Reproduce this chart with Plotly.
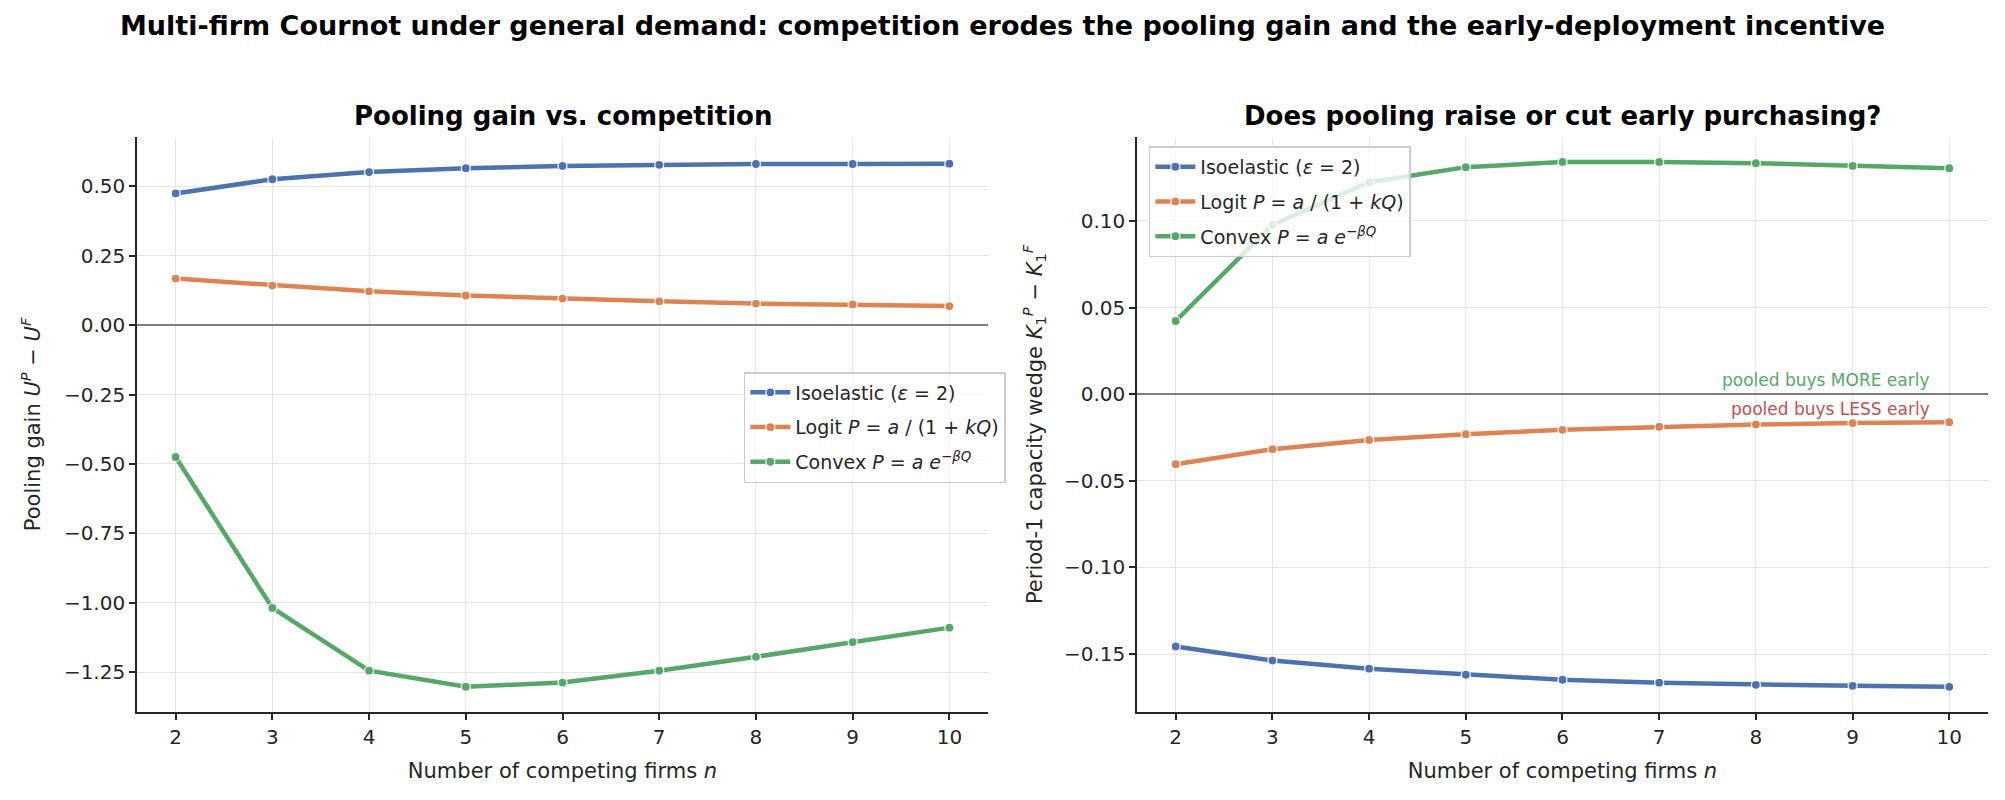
import plotly.graph_objects as go

n_firms = [2, 3, 4, 5, 6, 7, 8, 9, 10]

# Left panel: pooling gain U^P - U^F
gain_iso = [0.475, 0.526, 0.552, 0.566, 0.574, 0.578, 0.581, 0.581, 0.582]
gain_logit = [0.168, 0.143, 0.122, 0.107, 0.096, 0.086, 0.078, 0.075, 0.069]
gain_convex = [-0.475, -1.019, -1.245, -1.303, -1.288, -1.245, -1.195, -1.142, -1.090]

# Right panel: period-1 capacity wedge K1^P - K1^F
wedge_iso = [-0.1456, -0.1537, -0.1584, -0.1619, -0.1648, -0.1665, -0.1677, -0.1683, -0.1689]
wedge_logit = [-0.0404, -0.0318, -0.0264, -0.0231, -0.0206, -0.0188, -0.0175, -0.0167, -0.0162]
wedge_convex = [0.0422, 0.0977, 0.1223, 0.1310, 0.1340, 0.1340, 0.1333, 0.1317, 0.1304]

series_names = [
    "Isoelastic (<i>ε</i> = 2)",
    "Logit <i>P</i> = <i>a</i> / (1 + <i>kQ</i>)",
    "Convex <i>P</i> = <i>a e</i><sup>−<i>βQ</i></sup>",
]
colors = ["#4c72b0", "#dd8452", "#55a868"]

FONT = "DejaVu Sans"
INK = "#262626"

fig = go.Figure()

left = [gain_iso, gain_logit, gain_convex]
right = [wedge_iso, wedge_logit, wedge_convex]

for i, (name, col, ys) in enumerate(zip(series_names, colors, left)):
    fig.add_trace(go.Scatter(
        x=n_firms, y=ys, mode="lines+markers", name=name,
        line=dict(color=col, width=4.5),
        marker=dict(color=col, size=9, line=dict(color="white", width=1.2)),
        xaxis="x", yaxis="y", legend="legend", legendgroup=f"L{i}",
    ))
for i, (name, col, ys) in enumerate(zip(series_names, colors, right)):
    fig.add_trace(go.Scatter(
        x=n_firms, y=ys, mode="lines+markers", name=name,
        line=dict(color=col, width=4.5),
        marker=dict(color=col, size=9, line=dict(color="white", width=1.2)),
        xaxis="x2", yaxis="y2", legend="legend2", legendgroup=f"R{i}",
    ))

axis_common = dict(
    showline=True, linecolor=INK, linewidth=1.5,
    ticks="outside", ticklen=6, tickwidth=1.5, tickcolor=INK,
    showgrid=True, gridcolor="#e6e6e6", gridwidth=1,
    tickfont=dict(family=FONT, size=20, color=INK),
    mirror=False,
)

xl = dict(axis_common, range=[1.6, 10.4], tickmode="array", tickvals=n_firms,
          ticktext=[str(v) for v in n_firms], zeroline=False,
          title=dict(text="Number of competing firms <i>n</i>",
                     font=dict(family=FONT, size=21, color=INK), standoff=16))

legend_common = dict(
    xanchor="left", yanchor="top",
    bgcolor="rgba(255,255,255,0.8)", bordercolor="#cccccc", borderwidth=1.5,
    font=dict(family=FONT, size=19, color=INK), tracegroupgap=7, itemwidth=40,
)

fig.update_layout(
    width=2005, height=800,
    margin=dict(l=0, r=0, t=0, b=0),
    paper_bgcolor="white", plot_bgcolor="white",
    font=dict(family=FONT, color=INK),
    xaxis=dict(xl, domain=[0.0683, 0.4928], anchor="y"),
    yaxis=dict(axis_common, domain=[0.110, 0.829], anchor="x",
               range=[-1.394, 0.679], dtick=0.25, tick0=0, tickformat=".2f",
               zeroline=True, zerolinecolor="#7f7f7f", zerolinewidth=1.8,
               title=dict(text="Pooling gain <i>U</i><sup><i>P</i></sup> − <i>U</i><sup><i>F</i></sup>",
                          font=dict(family=FONT, size=21, color=INK), standoff=18)),
    xaxis2=dict(xl, domain=[0.5671, 0.9915], anchor="y2"),
    yaxis2=dict(axis_common, domain=[0.110, 0.829], anchor="x2",
                range=[-0.1834, 0.1485], dtick=0.05, tick0=0, tickformat=".2f",
                zeroline=True, zerolinecolor="#7f7f7f", zerolinewidth=1.8,
                title=dict(text="Period-1 capacity wedge <i>K</i><sub>1</sub><sup><i>P</i></sup> − <i>K</i><sub>1</sub><sup><i>F</i></sup>",
                           font=dict(family=FONT, size=21, color=INK), standoff=16)),
    legend=dict(legend_common, x=0.371, y=0.535),
    legend2=dict(legend_common, x=0.573, y=0.817),
    showlegend=True,
)

annotations = [
    dict(text="<b>Multi-firm Cournot under general demand: competition erodes the pooling gain and the early-deployment incentive</b>",
         x=0.5, y=0.968, xref="paper", yref="paper", xanchor="center", yanchor="middle",
         showarrow=False, font=dict(family=FONT, size=27, color="black")),
    dict(text="<b>Pooling gain vs. competition</b>",
         x=(0.0683 + 0.4928) / 2, y=0.855, xref="paper", yref="paper",
         xanchor="center", yanchor="middle", showarrow=False,
         font=dict(family=FONT, size=26, color="black")),
    dict(text="<b>Does pooling raise or cut early purchasing?</b>",
         x=(0.5671 + 0.9915) / 2, y=0.855, xref="paper", yref="paper",
         xanchor="center", yanchor="middle", showarrow=False,
         font=dict(family=FONT, size=26, color="black")),
    dict(text="pooled buys MORE early", x=9.82, y=0.0015, xref="x2", yref="y2",
         xanchor="right", yanchor="bottom", showarrow=False,
         font=dict(family=FONT, size=17, color="#55a868")),
    dict(text="pooled buys LESS early", x=9.82, y=-0.0015, xref="x2", yref="y2",
         xanchor="right", yanchor="top", showarrow=False,
         font=dict(family=FONT, size=17, color="#c44e52")),
]
fig.update_layout(annotations=annotations)

fig.write_html("out.html")
